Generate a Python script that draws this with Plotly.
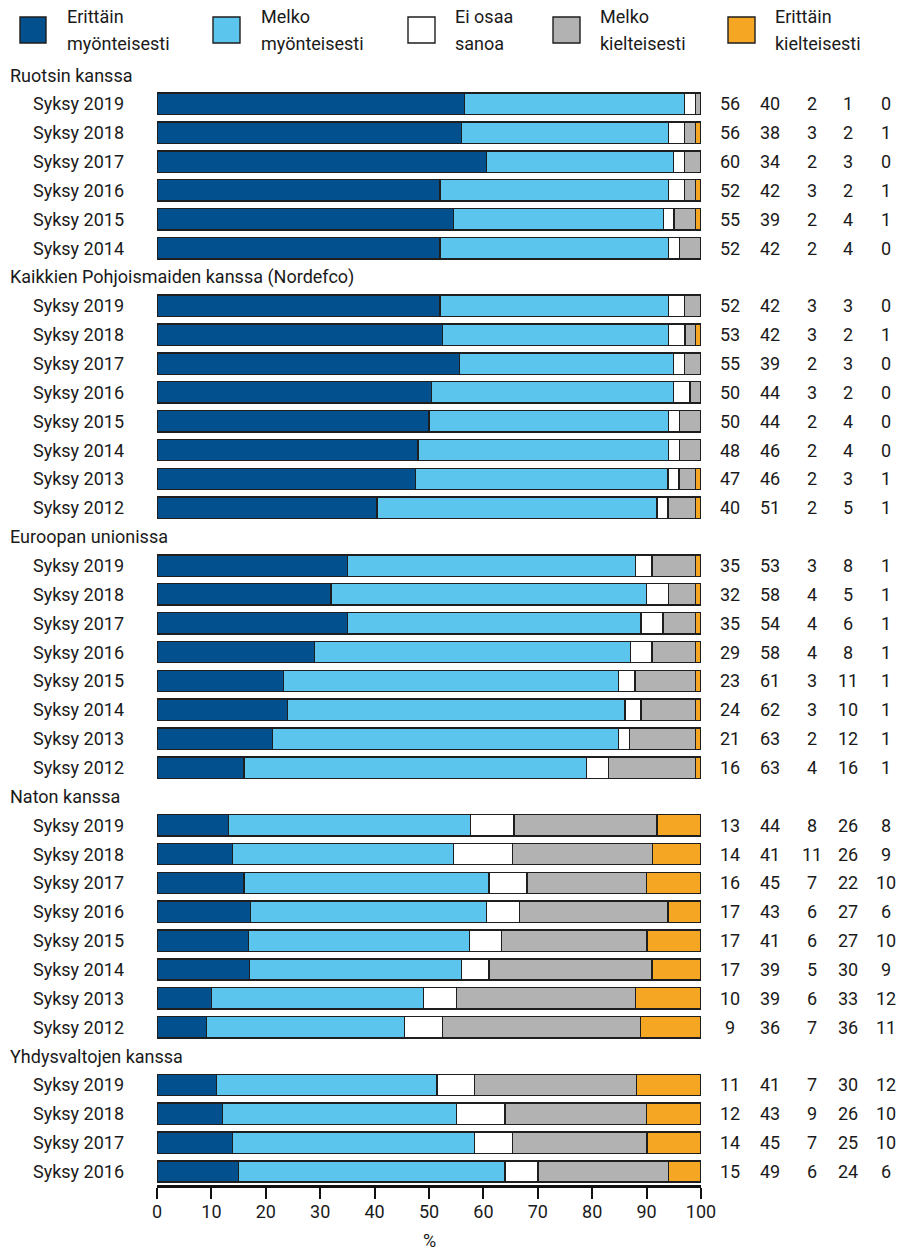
import plotly.graph_objects as go

# ---------------- data ----------------
series_names = ["Erittäin myönteisesti", "Melko myönteisesti", "Ei osaa sanoa",
                "Melko kielteisesti", "Erittäin kielteisesti"]
legend_lines = [("Erittäin", "myönteisesti"), ("Melko", "myönteisesti"),
                ("Ei osaa", "sanoa"), ("Melko", "kielteisesti"),
                ("Erittäin", "kielteisesti")]
colors = ["#03508f", "#5bc5ed", "#ffffff", "#b1b2b1", "#f5a623"]

groups = ["Ruotsin kanssa",
          "Kaikkien Pohjoismaiden kanssa (Nordefco)",
          "Euroopan unionissa",
          "Naton kanssa",
          "Yhdysvaltojen kanssa"]

periods_ruotsi = ["Syksy 2019", "Syksy 2018", "Syksy 2017", "Syksy 2016", "Syksy 2015", "Syksy 2014"]
periods_8 = ["Syksy 2019", "Syksy 2018", "Syksy 2017", "Syksy 2016",
             "Syksy 2015", "Syksy 2014", "Syksy 2013", "Syksy 2012"]
periods_usa = ["Syksy 2019", "Syksy 2018", "Syksy 2017", "Syksy 2016"]

# rows: [Erittäin myönt., Melko myönt., Ei osaa sanoa, Melko kielt., Erittäin kielt.]
ruotsi = [[56, 40, 2, 1, 0],
          [56, 38, 3, 2, 1],
          [60, 34, 2, 3, 0],
          [52, 42, 3, 2, 1],
          [55, 39, 2, 4, 1],
          [52, 42, 2, 4, 0]]
nordefco = [[52, 42, 3, 3, 0],
            [53, 42, 3, 2, 1],
            [55, 39, 2, 3, 0],
            [50, 44, 3, 2, 0],
            [50, 44, 2, 4, 0],
            [48, 46, 2, 4, 0],
            [47, 46, 2, 3, 1],
            [40, 51, 2, 5, 1]]
eu = [[35, 53, 3, 8, 1],
      [32, 58, 4, 5, 1],
      [35, 54, 4, 6, 1],
      [29, 58, 4, 8, 1],
      [23, 61, 3, 11, 1],
      [24, 62, 3, 10, 1],
      [21, 63, 2, 12, 1],
      [16, 63, 4, 16, 1]]
nato = [[13, 44, 8, 26, 8],
        [14, 41, 11, 26, 9],
        [16, 45, 7, 22, 10],
        [17, 43, 6, 27, 6],
        [17, 41, 6, 27, 10],
        [17, 39, 5, 30, 9],
        [10, 39, 6, 33, 12],
        [9, 36, 7, 36, 11]]
usa = [[11, 41, 7, 30, 12],
       [12, 43, 9, 26, 10],
       [14, 45, 7, 25, 10],
       [15, 49, 6, 24, 6]]

group_periods = [periods_ruotsi, periods_8, periods_8, periods_8, periods_usa]
group_values = [ruotsi, nordefco, eu, nato, usa]

# ---------------- layout geometry ----------------
W, H = 899, 1251
X0, X100 = 157, 701          # plot area left/right (px)
YTOP, YBOT = 61, 1185        # plot area top/bottom (px)
ML, MR, MT, MB = X0, W - X100, YTOP, H - YBOT
PW, PH = W - ML - MR, H - MT - MB
FONT = "Roboto, Liberation Sans, sans-serif"
FS = 18
TXT = "#1a1a1a"


def px2x(px):            # page pixel -> paper x
    return (px - ML) / PW


def py2y(py):            # page pixel -> paper y
    return (H - MB - py) / PH


# build slot structure
header_slots, row_slots, row_labels, row_vals = [], [], [], []
slot = 0
for g, per, vals in zip(groups, group_periods, group_values):
    header_slots.append(slot)
    slot += 1
    for p, v in zip(per, vals):
        row_slots.append(slot)
        row_labels.append(p)
        row_vals.append(v)
        slot += 1
n_slots = slot

fig = go.Figure()
for i, name in enumerate(series_names):
    fig.add_trace(go.Bar(
        x=[v[i] for v in row_vals],
        y=row_slots,
        orientation="h",
        name=name,
        width=0.74,
        marker=dict(color=colors[i], line=dict(color="#1e1e1e", width=1.4)),
        showlegend=False,
        hoverinfo="x+name",
    ))

annotations = []
# group headers
for g, s in zip(groups, header_slots):
    annotations.append(dict(x=px2x(8), xref="paper", y=s, yref="y", text=g,
                            showarrow=False, xanchor="left", yanchor="middle",
                            font=dict(size=FS, color=TXT, family=FONT)))
# row labels and value columns
value_cols_px = [730, 770, 812, 848, 886]
for lab, s, v in zip(row_labels, row_slots, row_vals):
    annotations.append(dict(x=px2x(126), xref="paper", y=s, yref="y", text=lab,
                            showarrow=False, xanchor="right", yanchor="middle",
                            font=dict(size=FS, color=TXT, family=FONT)))
    for xp, val in zip(value_cols_px, v):
        annotations.append(dict(x=px2x(xp), xref="paper", y=s, yref="y", text=str(val),
                                showarrow=False, xanchor="center", yanchor="middle",
                                font=dict(size=FS, color=TXT, family=FONT)))

# custom legend
shapes = []
sq_x = [(20, 46), (213, 240), (408, 435), (553, 580), (728, 755)]
txt_x = [65, 259, 453, 598, 773]
for (x0, x1), tx, (l1, l2), c in zip(sq_x, txt_x, legend_lines, colors):
    shapes.append(dict(type="rect", xref="paper", yref="paper",
                       x0=px2x(x0), x1=px2x(x1), y0=py2y(43), y1=py2y(17),
                       fillcolor=c, line=dict(color="#1e1e1e", width=1.4)))
    annotations.append(dict(x=px2x(tx), xref="paper", y=py2y(16), yref="paper",
                            text=l1, showarrow=False, xanchor="left", yanchor="middle",
                            font=dict(size=FS, color=TXT, family=FONT)))
    annotations.append(dict(x=px2x(tx), xref="paper", y=py2y(43), yref="paper",
                            text=l2, showarrow=False, xanchor="left", yanchor="middle",
                            font=dict(size=FS, color=TXT, family=FONT)))

# x axis title "%"
annotations.append(dict(x=50, xref="x", y=py2y(1240), yref="paper", text="%",
                        showarrow=False, xanchor="center", yanchor="middle",
                        font=dict(size=FS, color=TXT, family=FONT)))

# y range: slot 0 centred at y=75, last slot centred at y=1171.5
pitch = (1171.5 - 75) / (n_slots - 1)
y_top = -(75 - YTOP) / pitch
y_bot = (n_slots - 1) + (YBOT - 1171.5) / pitch

fig.update_layout(
    width=W, height=H,
    margin=dict(l=ML, r=MR, t=MT, b=MB, pad=0),
    barmode="stack", barnorm="percent",
    paper_bgcolor="white", plot_bgcolor="white",
    font=dict(family=FONT, size=FS, color=TXT),
    annotations=annotations, shapes=shapes,
    xaxis=dict(range=[0, 100], dtick=10, tick0=0, showgrid=False, zeroline=False,
               showline=True, linecolor="#111111", linewidth=3,
               ticks="outside", ticklen=11, tickwidth=1.5, tickcolor="#111111",
               ticklabelstandoff=-3,
               tickfont=dict(size=FS, color=TXT, family=FONT), fixedrange=True),
    yaxis=dict(range=[y_bot, y_top],
               showgrid=False, zeroline=False, showticklabels=False,
               showline=False, ticks="", fixedrange=True),
)

fig.write_html("out.html",
               config={"displayModeBar": False},
               post_script="document.body.style.margin='0';document.body.style.padding='0';")
